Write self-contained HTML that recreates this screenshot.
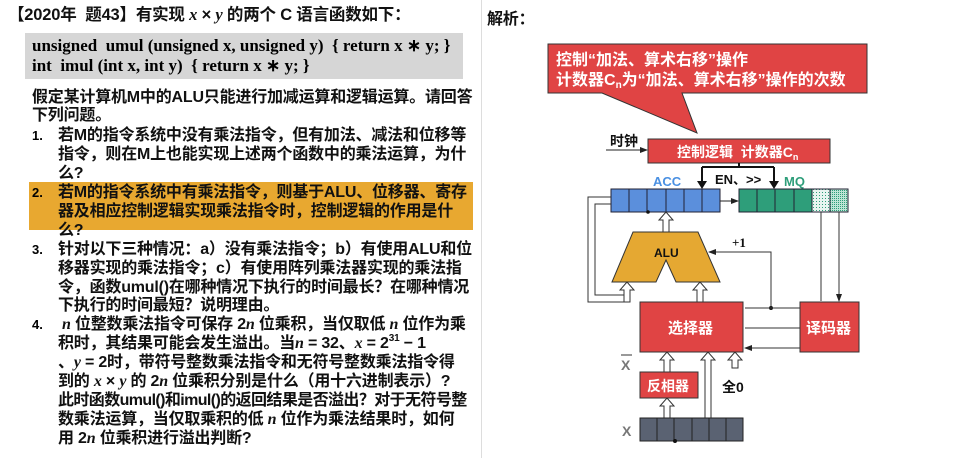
<!DOCTYPE html>
<html><head><meta charset="utf-8"><style>
body{margin:0;width:960px;height:458px;background:#fff;overflow:hidden;position:relative;font-family:"Liberation Sans","Noto Sans CJK SC",sans-serif;}
.t{position:absolute;font-weight:bold;font-size:16px;color:#111;white-space:nowrap;line-height:19px;letter-spacing:-0.2px}
.s{font-family:"Liberation Serif","Noto Serif CJK SC",serif;font-style:italic}
.n{position:absolute;left:32px;font-weight:bold;font-size:13px;line-height:19px}
.sup{font-size:10px;position:relative;top:-7px;line-height:0}
</style></head><body>
<div class="t" style="left:8px;top:5px;font-size:16.5px">【2020年&nbsp; 题43】有实现 <span class="s">x</span> × <span class="s">y</span> 的两个 C 语言函数如下：</div>
<div style="position:absolute;left:25px;top:33px;width:438px;height:46px;background:#d6d6d6"></div>
<div style="position:absolute;left:32px;top:36px;font-family:'Liberation Serif',serif;font-weight:bold;font-size:17px;line-height:20px;white-space:nowrap">unsigned&nbsp; umul (unsigned x, unsigned y)&nbsp; { return x ∗ y; }<br>int&nbsp; imul (int x, int y)&nbsp; { return x ∗ y; }</div>
<div class="t" style="left:32px;top:88px">假定某计算机M中的ALU只能进行加减运算和逻辑运算。请回答</div>
<div class="t" style="left:32px;top:106px">下列问题。</div>
<div class="n" style="top:126px">1.</div>
<div class="t" style="left:58px;top:126px">若M的指令系统中没有乘法指令，但有加法、减法和位移等</div>
<div class="t" style="left:58px;top:145px">指令，则在M上也能实现上述两个函数中的乘法运算，为什</div>
<div class="t" style="left:58px;top:164px">么?</div>
<div style="position:absolute;left:29px;top:182px;width:444px;height:48px;background:#e8a830"></div>
<div class="n" style="top:183px">2.</div>
<div class="t" style="left:58px;top:183px">若M的指令系统中有乘法指令，则基于ALU、位移器、寄存</div>
<div class="t" style="left:58px;top:202px">器及相应控制逻辑实现乘法指令时，控制逻辑的作用是什</div>
<div class="t" style="left:58px;top:221px">么?</div>
<div class="n" style="top:240px">3.</div>
<div class="t" style="left:58px;top:240px">针对以下三种情况：a）没有乘法指令；b）有使用ALU和位</div>
<div class="t" style="left:58px;top:259px">移器实现的乘法指令；c）有使用阵列乘法器实现的乘法指</div>
<div class="t" style="left:58px;top:278px">令，函数umul()在哪种情况下执行的时间最长？在哪种情况</div>
<div class="t" style="left:58px;top:296px">下执行的时间最短？说明理由。</div>
<div class="n" style="top:315px">4.</div>
<div class="t" style="left:62px;top:315px"><span class="s">n</span> 位整数乘法指令可保存 2<span class="s">n</span> 位乘积，当仅取低 <span class="s">n</span> 位作为乘</div>
<div class="t" style="left:58px;top:334px">积时，其结果可能会发生溢出。当<span class="s">n</span> = 32、<span class="s">x</span> = 2<span class="sup">31</span> − 1</div>
<div class="t" style="left:58px;top:353px">、<span class="s">y</span> = 2时，带符号整数乘法指令和无符号整数乘法指令得</div>
<div class="t" style="left:58px;top:372px">到的 <span class="s">x</span> × <span class="s">y</span> 的 2<span class="s">n</span> 位乘积分别是什么（用十六进制表示）?</div>
<div class="t" style="left:58px;top:391px;letter-spacing:-0.6px">此时函数umul()和imul()的返回结果是否溢出？对于无符号整</div>
<div class="t" style="left:58px;top:410px">数乘法运算，当仅取乘积的低 <span class="s">n</span> 位作为乘法结果时，如何</div>
<div class="t" style="left:58px;top:429px">用 2<span class="s">n</span> 位乘积进行溢出判断?</div>
<div style="position:absolute;left:481px;top:0;width:1px;height:458px;background:#ddd"></div>
<div class="t" style="left:487px;top:10px;font-size:16px">解析：</div>
<svg style="position:absolute;left:0;top:0" width="960" height="458" font-family="Liberation Sans,Noto Sans CJK SC,sans-serif" font-weight="bold">
<defs><marker id="a" markerWidth="8" markerHeight="8" refX="7" refY="4" orient="auto"><path d="M0,1L8,4L0,7z" fill="#222"/></marker>
<pattern id="d" width="3" height="3" patternUnits="userSpaceOnUse"><rect width="3" height="3" fill="#e8f4f0"/><rect width="1" height="1" fill="#2e9e7a"/></pattern>
<pattern id="d2" width="2" height="2" patternUnits="userSpaceOnUse"><rect width="2" height="2" fill="#bfe5d6"/><rect width="1" height="1" fill="#2e9e7a"/></pattern></defs>
<path d="M548,44H867V93H682L697,133L602,93H548Z" fill="#e04444" stroke="#333" stroke-width="1"/>
<text x="556" y="65" fill="#fff" font-size="16">控制“加法、算术右移”操作</text>
<text x="556" y="85" fill="#fff" font-size="16">计数器C<tspan font-size="10" dy="3">n</tspan><tspan dy="-3">为“加法、算术右移”操作的次数</tspan></text>
<text x="610" y="146" font-size="14" fill="#111">时钟</text>
<line x1="606" y1="150" x2="647" y2="150" stroke="#222" marker-end="url(#a)"/>
<rect x="648" y="139" width="182" height="24" fill="#e04444" stroke="#333"/>
<text x="677" y="157" fill="#fff" font-size="14">控制逻辑&#160; 计数器C<tspan font-size="9" dy="3">n</tspan></text>
<path d="M739,163V167M702,167H774M702,167V187M774,167V187" stroke="#111" stroke-width="2" fill="none"/>
<path d="M697,181L702,189L707,181zM769,181L774,189L779,181z" fill="#111"/>
<text x="653" y="186" fill="#4a90e2" font-size="13">ACC</text>
<text x="715" y="184" fill="#111" font-size="13">EN、&gt;&gt;</text>
<text x="784" y="186" fill="#2e9e7a" font-size="13">MQ</text>
<g stroke="#223" stroke-width="1">
<rect x="611" y="189" width="109" height="23" fill="#5b8fdc"/>
<path d="M629,189V212M647,189V212M666,189V212M684,189V212M702,189V212"/>
<rect x="739" y="189" width="73" height="23" fill="#2e9e7a"/>
<path d="M757,189V212M775,189V212M794,189V212"/>
<rect x="812" y="189" width="18" height="23" fill="url(#d)"/>
<rect x="830" y="189" width="18" height="23" fill="url(#d2)"/>
</g>
<line x1="720" y1="201" x2="738" y2="201" stroke="#222" marker-end="url(#a)"/>
<circle cx="648" cy="212" r="1.8" fill="#111"/>
<path d="M633,232H698L720,282H676L666,260L656,282H612Z" fill="#e5a832" stroke="#333"/>
<text x="654" y="257" font-size="12" fill="#111">ALU</text>
<g fill="#fff" stroke="#333" stroke-width="1">
<path d="M663,232V220H659L666,212L673,220H669V232Z"/>
<path d="M624,302V290H620L627,282L634,290H630V302Z"/>
<path d="M697,302V290H693L700,282L707,290H703V302Z"/>
<path d="M664,372V360H660L667,352L674,360H670V372Z"/>
<path d="M664,418V406H660L667,398L674,406H670V418Z"/>
<path d="M705,418V360H701L708,352L715,360H711V418Z"/>
<path d="M732,368V360H728L735,352L742,360H738V368Z"/>
</g>
<path d="M611,197H588V302H624M611,204H595V295H624" fill="none" stroke="#333"/>
<text x="732" y="247" font-size="13" font-family="Liberation Serif,serif" fill="#111">+1</text>
<path d="M771,308V252H709" fill="none" stroke="#333" marker-end="url(#a)"/>
<circle cx="771" cy="308" r="2" fill="#111"/>
<rect x="640" y="302" width="103" height="50" fill="#e04444" stroke="#333"/>
<text x="668" y="333" fill="#fff" font-size="15">选择器</text>
<rect x="800" y="302" width="59" height="50" fill="#e04444" stroke="#333"/>
<text x="806" y="333" fill="#fff" font-size="15">译码器</text>
<path d="M800,308H745M800,328H745M800,348H745" stroke="#333" marker-end="url(#a)"/>
<path d="M821,212V301M839,212V301" stroke="#333" marker-end="url(#a)"/>
<text x="621" y="370" fill="#777" font-size="14">X</text>
<line x1="621" y1="355" x2="632" y2="355" stroke="#777" stroke-width="1.5"/>
<rect x="640" y="372" width="58" height="26" fill="#e04444" stroke="#333"/>
<text x="647" y="391" fill="#fff" font-size="14">反相器</text>
<text x="722" y="392" font-size="14" fill="#111">全0</text>
<text x="622" y="436" fill="#777" font-size="14">X</text>
<rect x="640" y="418" width="103" height="23" fill="#5a6272" stroke="#222"/>
<path d="M657,418V441M674,418V441M692,418V441M709,418V441M726,418V441" stroke="#222"/>
<circle cx="675" cy="441" r="2" fill="#111"/>
</svg>
</body></html>
